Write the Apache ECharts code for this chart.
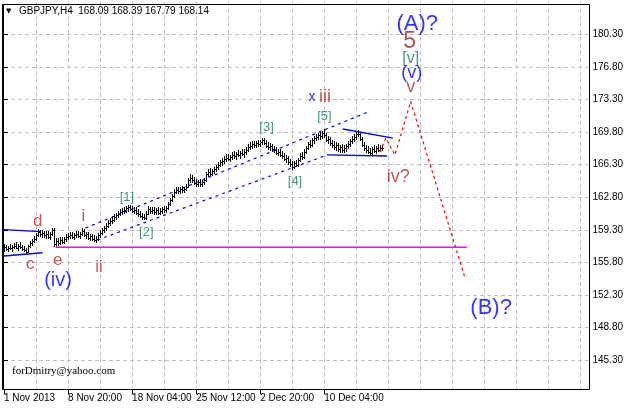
<!DOCTYPE html>
<html><head><meta charset="utf-8">
<script src="https://cdn.jsdelivr.net/npm/echarts@6/dist/echarts.min.js"></script>
<style>html,body{margin:0;padding:0;background:#fff}#c{width:626px;height:410px}</style>
</head><body><div id="c"></div>
<script>
// ---------------- data ----------------
const symbolName = 'GBPJPY,H4';
const lastQuote = [168.09, 168.39, 167.79, 168.14];
const watermark = 'forDmitry@yahoo.com';
const yTicks = [145.30, 148.80, 152.30, 155.80, 159.30, 162.80, 166.30, 169.80, 173.30, 176.80, 180.30];
const xTickLabels = ['1 Nov 2013', '8 Nov 20:00', '18 Nov 04:00', '25 Nov 12:00', '2 Dec 20:00', '10 Dec 04:00'];
const barsPerLabel = 32;
const barsPerGrid = 16;
const totalSlots = 293;
// H4 bars: [open, high, low, close]
const ohlc = [
[157.30,157.75,156.95,157.45],[157.45,157.70,157.05,157.20],[157.20,157.60,156.90,157.40],[157.40,157.80,157.10,157.30],
[157.30,157.65,156.95,157.50],[157.50,157.90,157.20,157.60],[157.60,157.95,157.25,157.35],[157.35,157.75,157.00,157.55],
[157.55,157.95,157.25,157.45],[157.45,157.70,157.00,157.20],[157.20,157.55,156.90,157.10],[157.10,157.40,156.70,156.95],
[156.95,157.70,156.85,157.55],[157.55,158.10,157.35,157.85],[157.85,158.35,157.60,158.10],[158.10,158.60,157.85,158.35],
[158.35,159.00,158.10,158.75],[158.75,159.35,158.50,159.05],[159.05,159.30,158.55,158.85],[158.85,159.25,158.40,158.95],
[158.95,159.20,158.45,158.70],[158.70,159.15,158.30,158.90],[158.90,159.15,158.30,158.55],[158.55,159.05,158.20,158.85],
[158.85,159.55,158.60,159.30],[159.30,159.45,157.42,157.80],[157.80,158.40,157.50,158.05],[158.05,158.45,157.60,157.90],
[157.90,158.50,157.70,158.20],[158.20,158.55,157.75,158.00],[158.00,158.55,157.80,158.30],[158.30,158.80,158.00,158.50],
[158.50,159.00,158.20,158.60],[158.60,159.05,158.30,158.75],[158.75,159.10,158.35,158.55],[158.55,159.00,158.20,158.70],
[158.70,159.15,158.40,158.80],[158.80,159.20,158.45,158.65],[158.65,159.10,158.35,158.85],[158.85,159.50,158.60,159.20],
[159.20,159.40,158.50,158.70],[158.70,159.10,158.30,158.80],[158.80,159.10,158.25,158.45],[158.45,158.90,158.10,158.60],
[158.60,158.90,158.05,158.30],[158.30,158.70,157.95,158.25],[158.25,158.65,157.88,158.35],[158.35,158.95,158.15,158.70],
[158.70,159.25,158.45,158.95],[158.95,159.55,158.70,159.25],[159.25,159.75,158.95,159.45],[159.45,160.00,159.20,159.70],
[159.70,160.35,159.45,160.05],[160.05,160.60,159.75,160.30],[160.30,160.75,159.95,160.40],[160.40,161.00,160.15,160.70],
[160.70,161.15,160.40,160.85],[160.85,161.35,160.60,161.05],[161.05,161.50,160.75,161.20],[161.20,161.65,160.90,161.30],
[161.30,161.75,161.00,161.45],[161.45,161.85,161.15,161.60],[161.60,161.95,161.25,161.70],[161.70,161.98,161.35,161.55],
[161.55,161.85,161.10,161.35],[161.35,161.75,161.00,161.45],[161.45,161.75,160.90,161.15],[161.15,161.50,160.70,160.95],
[160.95,161.30,160.55,160.80],[160.80,161.15,160.40,160.70],[160.70,161.00,160.35,160.60],[160.60,161.30,160.40,161.05],
[161.05,161.85,160.85,161.55],[161.55,161.80,161.00,161.30],[161.30,161.75,160.95,161.45],[161.45,161.80,160.90,161.20],
[161.20,161.65,160.90,161.40],[161.40,161.70,160.85,161.15],[161.15,161.60,160.85,161.35],[161.35,161.80,161.05,161.50],
[161.50,161.90,161.15,161.40],[161.40,161.85,161.10,161.65],[161.65,162.30,161.45,162.05],[162.05,162.75,161.85,162.50],
[162.50,163.20,162.25,162.95],[162.95,163.65,162.75,163.40],[163.40,163.85,163.10,163.55],[163.55,163.95,163.20,163.45],
[163.45,163.90,163.15,163.65],[163.65,164.00,163.30,163.55],[163.55,163.95,163.25,163.70],[163.70,164.20,163.45,163.95],
[163.95,164.90,163.75,164.60],[164.60,165.25,164.30,164.90],[164.90,165.15,164.35,164.60],[164.60,164.95,164.10,164.35],
[164.35,164.75,163.90,164.20],[164.20,164.65,163.85,164.40],[164.40,164.80,163.95,164.25],[164.25,164.70,163.85,164.45],
[164.45,164.90,164.10,164.65],[164.65,165.50,164.45,165.25],[165.25,165.80,164.95,165.50],[165.50,165.90,165.10,165.35],
[165.35,165.85,165.05,165.60],[165.60,166.10,165.30,165.85],[165.85,166.30,165.50,166.05],[166.05,166.55,165.75,166.30],
[166.30,166.80,166.00,166.55],[166.55,167.00,166.20,166.70],[166.70,167.20,166.35,166.95],[166.95,167.40,166.60,167.05],
[167.05,167.45,166.70,166.95],[166.95,167.35,166.55,167.15],[167.15,167.65,166.85,167.35],[167.35,167.75,166.95,167.20],
[167.20,167.70,166.80,167.45],[167.45,167.90,167.10,167.30],[167.30,167.80,166.95,167.55],[167.55,168.00,167.20,167.40],
[167.40,167.95,167.05,167.65],[167.65,168.15,167.35,167.90],[167.90,168.50,167.65,168.25],[168.25,168.70,167.90,168.35],
[168.35,168.80,168.00,168.55],[168.55,168.85,168.10,168.40],[168.40,168.85,168.05,168.60],[168.60,168.95,168.20,168.50],
[168.50,169.00,168.20,168.75],[168.75,169.18,168.45,168.95],[168.95,169.15,168.40,168.65],[168.65,168.90,168.10,168.35],
[168.35,168.70,167.90,168.20],[168.20,168.60,167.80,168.30],[168.30,168.55,167.70,167.95],[167.95,168.30,167.50,167.85],
[167.85,168.20,167.30,167.55],[167.55,168.00,167.20,167.70],[167.70,167.95,167.10,167.35],[167.35,167.75,166.90,167.20],
[167.20,167.55,166.65,166.90],[166.90,167.35,166.45,167.05],[167.05,167.25,166.30,166.60],[166.60,166.95,166.05,166.35],
[166.35,166.65,165.73,166.00],[166.00,166.70,165.80,166.45],[166.45,166.80,166.00,166.30],[166.30,167.05,166.10,166.80],
[166.80,167.50,166.55,167.25],[167.25,167.65,166.85,167.10],[167.10,167.95,166.90,167.70],[167.70,168.35,167.45,168.10],
[168.10,168.75,167.85,168.50],[168.50,168.95,168.10,168.40],[168.40,169.15,168.20,168.90],[168.90,169.40,168.55,169.15],
[169.15,169.60,168.80,169.30],[169.30,169.75,168.95,169.45],[169.45,169.90,169.00,169.35],[169.35,169.95,169.10,169.75],
[169.75,170.15,169.20,169.45],[169.45,169.70,168.70,168.95],[168.95,169.35,168.50,169.10],[169.10,169.30,168.35,168.60],
[168.60,169.00,168.10,168.45],[168.45,168.85,167.90,168.20],[168.20,168.70,167.75,168.40],[168.40,168.65,167.65,167.95],
[167.95,168.40,167.55,168.15],[168.15,168.50,167.60,167.85],[167.85,168.40,167.50,168.10],[168.10,168.55,167.70,168.30],
[168.30,168.80,167.95,168.55],[168.55,169.10,168.25,168.80],[168.80,169.40,168.50,169.10],[169.10,169.60,168.75,169.25],
[169.25,169.80,169.00,169.55],[169.55,170.00,169.25,169.60],[169.60,169.80,168.80,169.05],[169.05,169.30,168.20,168.45],
[168.45,168.75,167.75,168.05],[168.05,168.45,167.50,167.85],[167.85,168.30,167.40,167.70],[167.70,168.05,167.30,167.55],
[167.55,168.20,167.35,167.95],[167.95,168.40,167.50,167.80],[167.80,168.30,167.40,168.05],[168.05,168.50,167.65,167.90],
[167.90,168.45,167.70,168.09],[168.09,168.39,167.79,168.14]
];
// trend lines: [bar index, price]
const triLeftUpper = [[0, 159.33], [18.3, 159.10]];
const triLeftLower = [[0, 156.49], [19.3, 156.84]];
const triRightUpper = [[169.3, 170.13], [194.3, 169.16]];
const triRightLower = [[161.4, 167.34], [191.3, 167.23]];
const channelUpper = [[40.7, 159.49], [181.8, 171.95]];
const channelLower = [[46.7, 158.21], [161.4, 167.34]];
const levelLine = [[25.8, 157.42], [231.2, 157.42]];
const forecastPath = [[187.8, 167.66], [190.8, 169.16], [195.3, 167.34], [203.2, 173.08], [230.2, 154.23]];
// wave labels: [text, bar index, price]
const waveLabels = [
  ['(A)?', 206.5, 181.41], ['5', 202.7, 179.47], ['[v]', 203.2, 177.70], ['(v)', 203.7, 176.14], ['v', 203.2, 174.60],
  ['x', 153.9, 173.55], ['iii', 160.4, 173.51], ['[5]', 160.1, 171.47], ['[3]', 131.2, 170.29], ['[4]', 145.4, 164.49],
  ['[1]', 61.4, 162.82], ['[2]', 71.1, 159.01], ['iv?', 197.0, 164.97], ['(B)?', 243.4, 150.90],
  ['i', 39.7, 160.78], ['ii', 47.5, 155.31], ['d', 16.8, 160.25], ['c', 13.1, 155.55], ['e', 26.8, 156.05], ['(iv)', 27.0, 153.91]
];

// ---------------- styles ----------------
const FONT = 'Liberation Sans';
const BLUE = '#0000ff', BROWN = '#b0302a', GREEN = '#1b7d5a', DARKRED = '#a02820';
function labelStyle(t) {
  if (t === '(A)?' || t === '(B)?') return { color: BLUE, fontSize: 22 };
  if (t === '(iv)') return { color: BLUE, fontSize: 20 };
  if (t === '(v)') return { color: BLUE, fontSize: 18 };
  if (t === 'x') return { color: BLUE, fontSize: 14 };
  if (t === '5') return { color: DARKRED, fontSize: 23 };
  if (t === '[v]') return { color: GREEN, fontSize: 16 };
  if (t[0] === '[') return { color: GREEN, fontSize: 13 };
  if (t === 'iii' || t === 'iv?' || t === 'v') return { color: BROWN, fontSize: 18 };
  return { color: BROWN, fontSize: 17 };
}

const step = Math.round((yTicks[1] - yTicks[0]) * 100) / 100;
const yMin = Math.round((yTicks[0] - step) * 100) / 100;
const yMax = Math.round((yTicks[yTicks.length - 1] + step) * 100) / 100;
const categories = [];
for (let i = 0; i < totalSlots; i++) {
  const k = i / barsPerLabel;
  categories.push(i % barsPerLabel === 0 && k < xTickLabels.length ? xTickLabels[k] : '');
}

const chart = echarts.init(document.getElementById('c'), null, { renderer: 'canvas' });
const gridStyle = { color: '#c0c0c0', width: 1, type: [4, 3] };
function lineSeries(data, color, type, width) {
  return {
    type: 'line', xAxisIndex: 1, yAxisIndex: 0, data: data, showSymbol: false, symbol: 'none',
    silent: true, animation: false, z: 3,
    lineStyle: { color: color, width: width || 1, type: type }
  };
}

chart.setOption({
  animation: false,
  backgroundColor: '#ffffff',
  grid: { left: 4, right: 36.2, top: 1.7, bottom: 17.2, containLabel: false },
  xAxis: [
    {
      type: 'category', data: categories, boundaryGap: false, offset: -3.5,
      axisLine: { show: false },
      axisTick: { show: true, length: 5, interval: (i, v) => v !== '', lineStyle: { color: '#000' } },
      axisLabel: { interval: (i, v) => v !== '', align: 'left', margin: 4, color: '#000', fontFamily: FONT, fontSize: 10 },
      splitLine: { show: true, interval: (i) => i > 0 && i % barsPerGrid === 0, lineStyle: gridStyle }
    },
    { type: 'value', min: 0, max: totalSlots - 1, show: false }
  ],
  yAxis: {
    type: 'value', position: 'right', min: yMin, max: yMax, interval: step, scale: true,
    axisLine: { show: false },
    axisTick: { show: true, length: 4, lineStyle: { color: '#000' } },
    axisLabel: { margin: 4, color: '#000', fontFamily: FONT, fontSize: 10, showMinLabel: false, showMaxLabel: false,
      formatter: v => v.toFixed(2) },
    splitLine: { show: true, showMinLine: false, showMaxLine: false, lineStyle: gridStyle }
  },
  graphic: [
    { type: 'rect', shape: { x: 3.5, y: 4.5, width: 586, height: 385 }, style: { fill: 'none', stroke: '#000', lineWidth: 1 }, z: 10, silent: true },
    { type: 'rect', shape: { x: 2, y: 4, width: 1, height: 386 }, style: { fill: '#000' }, z: 10, silent: true },
    { type: 'text', left: 6, top: 8, style: { text: '▼', font: '7px "DejaVu Sans"', fill: '#000' }, z: 10 },
    { type: 'text', left: 19, top: 6, style: { text: symbolName + '  ' + lastQuote.map(v => v.toFixed(2)).join(' '), font: '10px "' + FONT + '"', fill: '#000' }, z: 10 },
    { type: 'text', left: 12, top: 366, style: { text: watermark, font: '11px "Liberation Serif"', fill: '#000' }, z: 10 }
  ],
  series: [
    {
      type: 'custom', xAxisIndex: 1, yAxisIndex: 0, silent: true, animation: false, z: 2,
      data: ohlc.map((d, i) => [i, d[0], d[1], d[2], d[3]]),
      renderItem: function (params, api) {
        const x = api.value(0);
        const pH = api.coord([x, api.value(2)]);
        const pL = api.coord([x, api.value(3)]);
        const pC = api.coord([x, api.value(4)]);
        const px = Math.round(pH[0]);
        const yH = Math.round(pH[1]), yL = Math.round(pL[1]);
        return {
          type: 'group', children: [
            { type: 'rect', shape: { x: px, y: yH, width: 1, height: Math.max(1, yL - yH) }, style: { fill: '#000' } },
            { type: 'rect', shape: { x: px + 1, y: Math.round(pC[1]), width: 1, height: 1 }, style: { fill: '#000' } }
          ]
        };
      }
    },
    lineSeries(triLeftUpper, BLUE, 'solid', 1.3),
    lineSeries(triLeftLower, BLUE, 'solid', 1.3),
    lineSeries(triRightUpper, BLUE, 'solid', 1.3),
    lineSeries(triRightLower, BLUE, 'solid', 1.3),
    lineSeries(channelUpper, BLUE, [3, 4], 1.2),
    lineSeries(channelLower, BLUE, [3, 4], 1.2),
    lineSeries(levelLine, '#ff00ff', 'solid', 1.5),
    lineSeries(forecastPath, '#ff0000', [3, 3], 1.2),
    {
      type: 'scatter', xAxisIndex: 1, yAxisIndex: 0, symbolSize: 0.1, silent: true, animation: false, z: 5,
      data: waveLabels.map(w => {
        const s = labelStyle(w[0]);
        return {
          name: w[0], value: [w[1], w[2]],
          label: { show: true, position: 'inside', formatter: w[0], color: s.color, fontSize: s.fontSize,
            fontFamily: FONT, align: 'center', verticalAlign: 'middle' }
        };
      })
    }
  ]
});
</script>
</body></html>
